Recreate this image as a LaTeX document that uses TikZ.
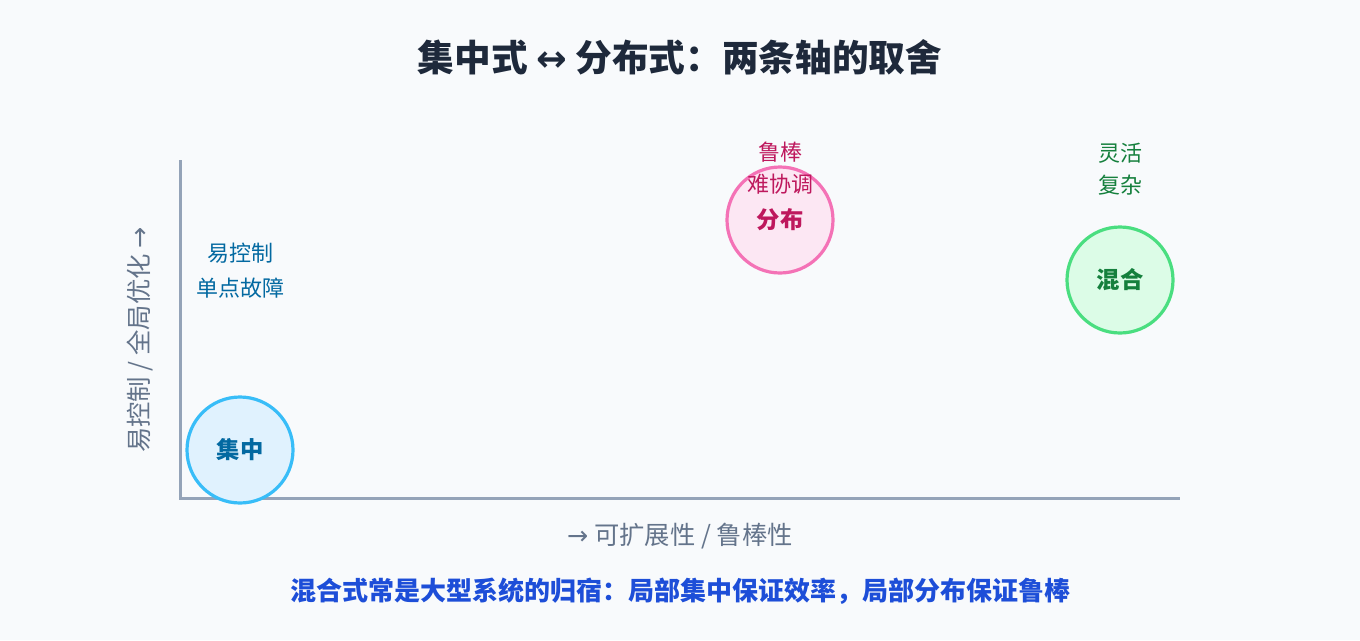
\documentclass[tikz,border=0pt]{standalone}
\usepackage{fontspec}
\setmainfont{Noto Sans CJK SC}
\newfontfamily\symfont{DejaVu Sans}
\definecolor{bg}{HTML}{F8FAFC}
\definecolor{axisc}{HTML}{94A3B8}
\definecolor{titlec}{HTML}{1E293B}
\definecolor{labelc}{HTML}{64748B}
\definecolor{bluet}{HTML}{0369A1}
\definecolor{bluef}{HTML}{E0F2FE}
\definecolor{blues}{HTML}{38BDF8}
\definecolor{pinkt}{HTML}{BE185D}
\definecolor{pinkf}{HTML}{FCE7F3}
\definecolor{pinks}{HTML}{F472B6}
\definecolor{greent}{HTML}{15803D}
\definecolor{greenf}{HTML}{DCFCE7}
\definecolor{greens}{HTML}{4ADE80}
\definecolor{notec}{HTML}{1D4ED8}
\begin{document}
\begin{tikzpicture}[x=0.75pt,y=-0.75pt,
  bubble/.style={circle, minimum size=79.5pt, inner sep=0pt, line width=2.4pt, font=\fontsize{17.5}{21}\selectfont\bfseries},
  note/.style={font=\fontsize{16.5}{24}\selectfont, align=center, inner sep=0pt},
  axisline/.style={draw=axisc, line width=2.25pt}]
\fill[bg] (0,0) rectangle (1360,640);
\useasboundingbox (0,0) rectangle (1360,640);
\node[font=\fontsize{27.5}{32}\selectfont\bfseries, text=titlec] (title) at (680,57) {集中式 {\symfont ↔} 分布式：两条轴的取舍};
\coordinate (top) at (180,160);
\coordinate (origin) at (180,498);
\coordinate (right) at (1180,498);
\draw[axisline] (top) -- (origin) -- (right);
\node[font=\fontsize{19}{22}\selectfont, text=labelc] (xlab) at (680,536) {{\symfont →} 可扩展性 / 鲁棒性};
\node[font=\fontsize{19}{22}\selectfont, text=labelc, rotate=90] (ylab) at (140,340) {易控制 / 全局优化 {\symfont →}};
\node[bubble, fill=bluef, draw=blues, text=bluet] (central) at (240,450) {集中};
\node[bubble, fill=pinkf, draw=pinks, text=pinkt] (dist) at (780,220) {分布};
\node[bubble, fill=greenf, draw=greens, text=greent] (hybrid) at (1120,280) {混合};
\node[note, text=bluet] (cnote1) at (240,253) {易控制};
\node[note, text=bluet] (cnote2) at (240,288) {单点故障};
\node[note, text=pinkt] (dnote1) at (780,152) {鲁棒};
\node[note, text=pinkt] (dnote2) at (780,184) {难协调};
\node[note, text=greent] (hnote1) at (1120,153) {灵活};
\node[note, text=greent] (hnote2) at (1120,185) {复杂};
\node[font=\fontsize{19.5}{24}\selectfont\bfseries, text=notec] (summary) at (680,591) {混合式常是大型系统的归宿：局部集中保证效率，局部分布保证鲁棒};
\end{tikzpicture}
\end{document}
